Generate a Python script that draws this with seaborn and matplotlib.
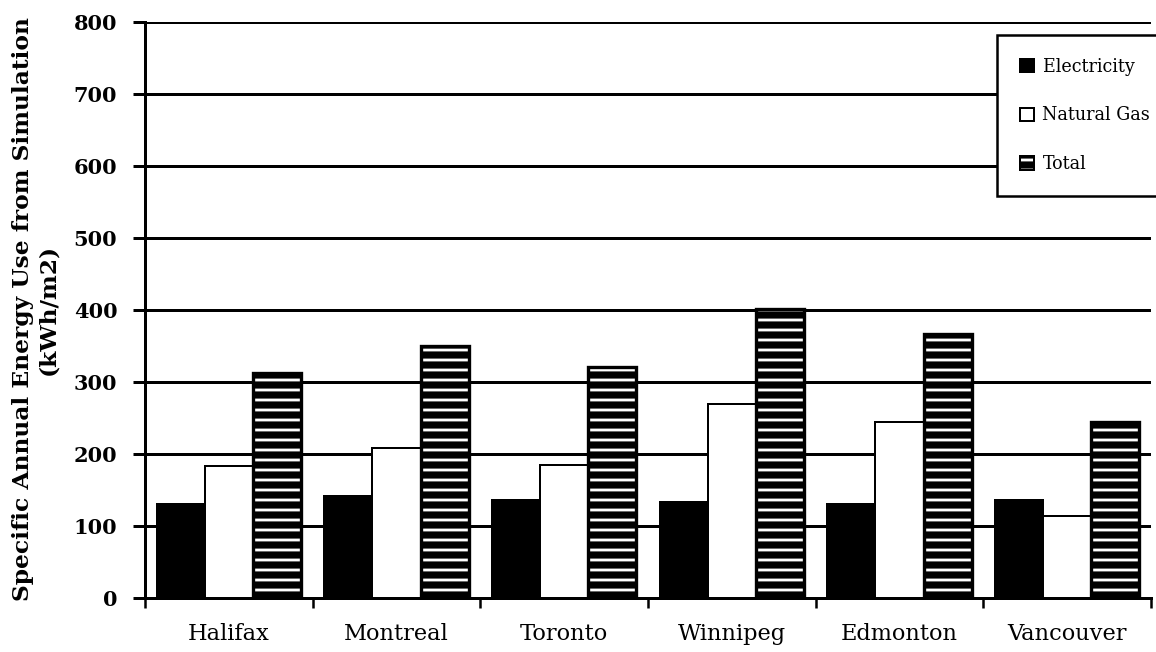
import numpy as np
import pandas as pd
import matplotlib
matplotlib.use("Agg")
import matplotlib.pyplot as plt
from matplotlib.patches import Patch
import seaborn as sns

# Specific annual energy use from simulation, kWh/m2
cities = ["Halifax", "Montreal", "Toronto", "Winnipeg", "Edmonton", "Vancouver"]
electricity = [131, 142, 136, 134, 131, 136]
natural_gas = [183, 209, 185, 270, 245, 114]
total = [313, 350, 321, 401, 367, 245]
sources = ["Electricity", "Natural Gas", "Total"]
y_ticks = [0, 100, 200, 300, 400, 500, 600, 700, 800]

df = pd.DataFrame({
    "city": cities * 3,
    "source": np.repeat(sources, len(cities)),
    "value": electricity + natural_gas + total,
})

sns.set_theme(style="white")
plt.rcParams["font.family"] = ["DejaVu Serif"]
plt.rcParams["hatch.linewidth"] = 4.3
plt.rcParams["hatch.color"] = "black"
for key in ["text.color", "axes.labelcolor", "xtick.color", "ytick.color"]:
    plt.rcParams[key] = "black"

DPI = 120
fig = plt.figure(figsize=(1156 / DPI, 652 / DPI), dpi=DPI)
ax = fig.add_axes([145 / 1156, 54 / 652, (1151 - 145) / 1156, (598 - 22) / 652])

palette = {"Electricity": "black", "Natural Gas": "white", "Total": "white"}
sns.barplot(data=df, x="city", y="value", hue="source", hue_order=sources,
            order=cities, palette=palette, saturation=1, width=0.86,
            edgecolor="black", linewidth=1.2, errorbar=None, legend=False, ax=ax)

# horizontal stripes on the total bars
for bar in ax.containers[2]:
    bar.set_hatch("--")
    bar.set_linewidth(2.0)

ax.set_xlim(-0.5, len(cities) - 0.5)
ax.set_ylim(0, 800)
ax.set_yticks(y_ticks)
ax.set_yticklabels([str(v) for v in y_ticks], fontweight="bold", fontsize=12.5)
ax.set_xlabel("")
ax.set_ylabel("")

ax.yaxis.grid(True, color="black", linewidth=1.8)
ax.set_axisbelow(True)

for side in ["top", "right"]:
    ax.spines[side].set_visible(False)
for side in ["left", "bottom"]:
    ax.spines[side].set_color("black")
    ax.spines[side].set_linewidth(1.8)

ax.tick_params(axis="y", which="major", direction="out", length=7, width=1.8,
               color="black", pad=9.6, left=True)
ax.set_xticks(np.arange(-0.5, len(cities), 1), minor=True)
ax.tick_params(axis="x", which="minor", direction="out", length=6, width=1.5,
               color="black", bottom=True)
ax.tick_params(axis="x", which="major", length=0, pad=15, labelsize=13.5)

fig.text(35.5 / 1156, 1 - 309 / 652,
         "Specific Annual Energy Use from Simulation\n(kWh/m2)",
         rotation=90, ha="center", va="center", fontsize=14,
         fontweight="bold", linespacing=1.15, multialignment="center")

handles = [
    Patch(facecolor="black", edgecolor="black", linewidth=1.2),
    Patch(facecolor="white", edgecolor="black", linewidth=1.2),
    Patch(facecolor="white", edgecolor="black", linewidth=1.2, hatch="--"),
]
leg = fig.legend(handles, sources, loc="upper left",
                 bbox_to_anchor=(997 / 1156, 1 - 35 / 652),
                 bbox_transform=fig.transFigure, fontsize=10.5,
                 frameon=True, fancybox=False, framealpha=1,
                 edgecolor="black", borderpad=1.3, labelspacing=1.75,
                 handlelength=0.8, handleheight=0.8, handletextpad=0.5,
                 borderaxespad=0)
leg.get_frame().set_linewidth(1.5)

fig.savefig("out.png", dpi=DPI)
